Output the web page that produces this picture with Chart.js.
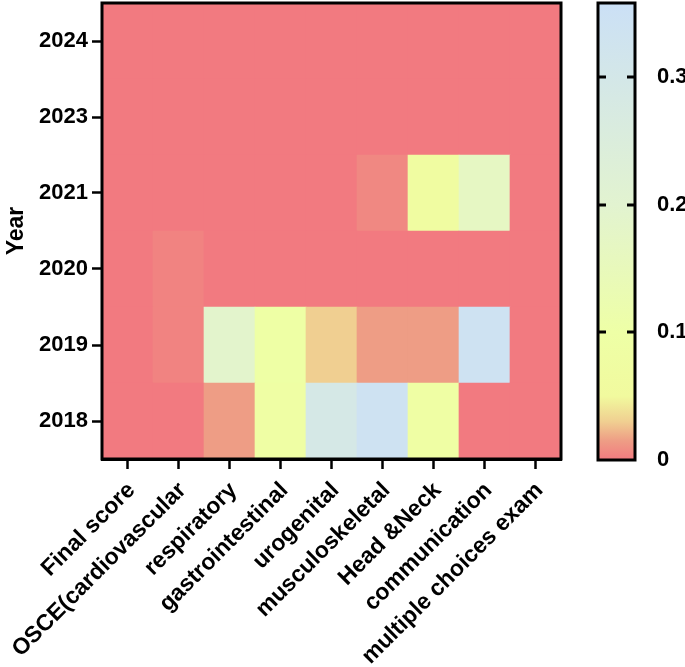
<!DOCTYPE html>
<html>
<head>
<meta charset="utf-8">
<script src="https://cdn.jsdelivr.net/npm/chart.js@4"></script>
<style>
  body { margin: 0; background: #fff; }
  #wrap { position: relative; width: 685px; height: 667px; }
  #heat { position: absolute; left: 0; top: 0; }
  #bar { position: absolute; left: 560px; top: 0; }
</style>
</head>
<body>
<div id="wrap">
  <canvas id="heat" width="565" height="667"></canvas>
  <canvas id="bar" width="125" height="667"></canvas>
</div>
<script>
// categories (x) and years (y, bottom to top)
var categories = ["Final score", "OSCE(cardiovascular", "respiratory", "gastrointestinal",
  "urogenital", "musculoskeletal", "Head &Neck", "communication", "multiple choices exam"];
var years = ["2018", "2019", "2020", "2021", "2023", "2024"];

// values per year row
var v2018 = [0, 0, 0.015, 0.09, 0.29, 0.34, 0.09, 0, 0];
var v2019 = [0, 0.004, 0.19, 0.095, 0.03, 0.015, 0.015, 0.34, 0];
var v2020 = [0, 0.004, 0, 0, 0, 0, 0, 0, 0];
var v2021 = [0, 0, 0, 0, 0, 0.006, 0.07, 0.17, 0];
var v2023 = [0, 0, 0, 0, 0, 0, 0, 0, 0];
var v2024 = [0, 0, 0, 0, 0, 0, 0, 0, 0];
var rows = [v2018, v2019, v2020, v2021, v2023, v2024];

var scaleMax = 0.358;
var colorTicks = [0, 0.1, 0.2, 0.3];

// colour map stops
var stops = [
  [0, [242, 122, 128]],
  [0.015, [238, 157, 133]],
  [0.03, [240, 207, 145]],
  [0.05, [241, 250, 158]],
  [0.1, [238, 255, 166]],
  [0.2, [226, 243, 208]],
  [0.358, [203, 224, 246]]
];

function colorFor(v) {
  for (var i = 1; i < stops.length; i++) {
    if (v <= stops[i][0]) {
      var a = stops[i - 1], b = stops[i];
      var t = (v - a[0]) / (b[0] - a[0]);
      var c = a[1].map(function (x, k) { return Math.round(x + (b[1][k] - x) * t); });
      return 'rgb(' + c.join(',') + ')';
    }
  }
  return 'rgb(' + stops[stops.length - 1][1].join(',') + ')';
}

var fam = "'Liberation Sans', Arial, sans-serif";
var font = { family: fam, weight: 'bold', size: 22 };
var xFont = { family: fam, weight: 'bold', size: 23 };
Chart.defaults.color = '#000';

function noPad(s) {
  s.paddingTop = 0; s.paddingBottom = 0; s.paddingLeft = 0; s.paddingRight = 0;
}

var frame = {
  id: 'frame',
  afterDraw: function (chart) {
    var a = chart.chartArea, ctx = chart.ctx;
    ctx.save();
    ctx.lineWidth = 3;
    ctx.strokeStyle = '#000';
    ctx.strokeRect(a.left, a.top, a.right - a.left, a.bottom - a.top);
    ctx.restore();
  }
};

// inner tick marks on the colour bar
var innerTicks = {
  id: 'innerTicks',
  afterDraw: function (chart) {
    var a = chart.chartArea, ctx = chart.ctx, y = chart.scales.y;
    ctx.save();
    ctx.lineWidth = 3;
    ctx.strokeStyle = '#000';
    colorTicks.forEach(function (v) {
      if (v === 0) return;
      var py = Math.round(y.getPixelForValue(v));
      ctx.beginPath();
      ctx.moveTo(a.left, py); ctx.lineTo(a.left + 8, py);
      ctx.moveTo(a.right - 8, py); ctx.lineTo(a.right, py);
      ctx.stroke();
    });
    ctx.restore();
  }
};

/*Heatmap as stacked bars, one dataset per year*/
var datasets = rows.map(function (vals, r) {
  return {
    label: years[r],
    data: vals.map(function () { return 1; }),
    backgroundColor: vals.map(colorFor),
    borderWidth: 0,
    barPercentage: 1,
    categoryPercentage: 1
  };
});

new Chart(document.getElementById('heat'), {
  type: 'bar',
  data: { labels: categories, datasets: datasets },
  plugins: [frame],
  options: {
    responsive: false,
    animation: false,
    layout: { padding: { top: 3, right: 4, left: 0, bottom: 0 } },
    plugins: { legend: { display: false }, tooltip: { enabled: false } },
    scales: {
      x: {
        stacked: true,
        grid: { offset: false, drawOnChartArea: false, drawTicks: true, tickLength: 10, tickWidth: 2.5, tickColor: '#000' },
        border: { color: '#000', width: 3 },
        ticks: { font: xFont, maxRotation: 45, minRotation: 45, padding: 8, labelOffset: 4 },
        afterFit: function (s) { s.height = 208; noPad(s); }
      },
      y: {
        stacked: true,
        min: 0,
        max: years.length,
        grid: { drawOnChartArea: false, drawTicks: true, tickLength: 10, tickWidth: 2.5, tickColor: '#000' },
        border: { color: '#000', width: 3 },
        afterBuildTicks: function (s) {
          s.ticks = years.map(function (y, i) { return { value: i + 0.5 }; });
        },
        ticks: {
          font: font,
          padding: 4,
          callback: function (v) { return years[Math.floor(v)]; }
        },
        title: { display: true, text: 'Year', font: xFont, padding: { top: 3, bottom: 6 } },
        afterFit: function (s) { s.width = 102; noPad(s); }
      }
    }
  }
});

/*Colour bar*/
new Chart(document.getElementById('bar'), {
  type: 'bar',
  data: {
    labels: [''],
    datasets: [{
      data: [[0, scaleMax]],
      backgroundColor: function (ctx) {
        var chart = ctx.chart, y = chart.scales.y;
        if (!chart.chartArea || !y) return 'rgb(242,122,128)';
        var g = chart.ctx.createLinearGradient(0, y.getPixelForValue(0), 0, y.getPixelForValue(scaleMax));
        stops.forEach(function (s) {
          g.addColorStop(s[0] / scaleMax, 'rgb(' + s[1].join(',') + ')');
        });
        return g;
      },
      borderWidth: 0,
      barPercentage: 1,
      categoryPercentage: 1
    }]
  },
  plugins: [frame, innerTicks],
  options: {
    responsive: false,
    animation: false,
    layout: { padding: { top: 3, left: 38, right: 0, bottom: 207 } },
    plugins: { legend: { display: false }, tooltip: { enabled: false } },
    scales: {
      x: { display: false },
      y: {
        position: 'right',
        min: 0,
        max: scaleMax,
        afterBuildTicks: function (s) {
          s.ticks = colorTicks.map(function (v) { return { value: v }; });
        },
        grid: { display: false },
        border: { display: false },
        ticks: { font: font, padding: 14, callback: function (v) { return String(v); } },
        afterFit: function (s) { s.width = 50; noPad(s); }
      }
    }
  }
});
</script>
</body>
</html>
